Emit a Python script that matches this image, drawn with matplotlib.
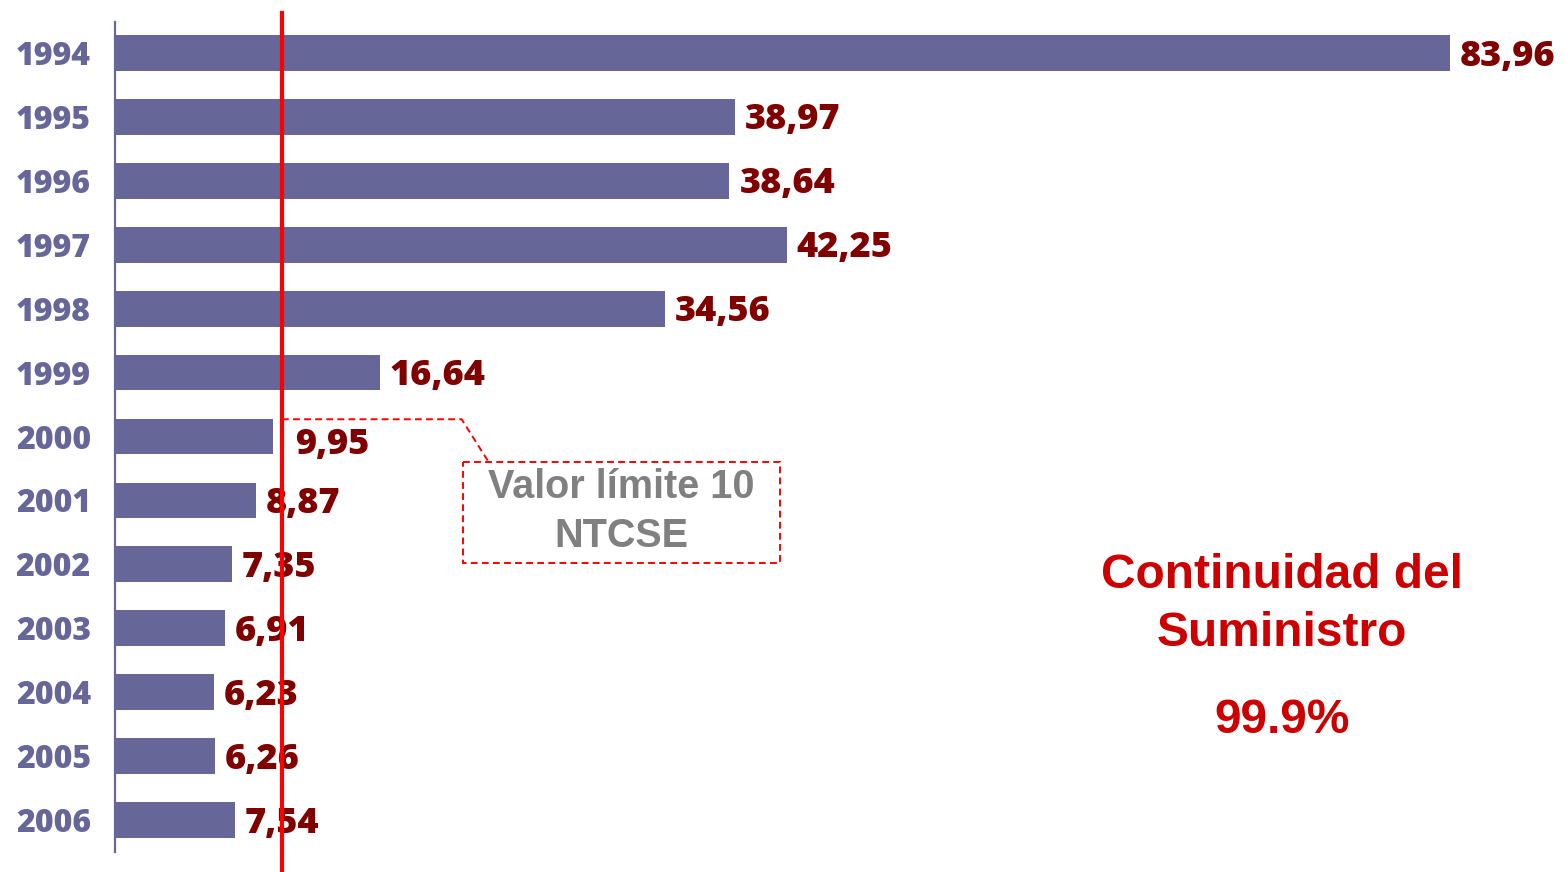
import matplotlib
matplotlib.use("Agg")
import matplotlib.pyplot as plt
from matplotlib.patches import Rectangle

years = ["1994", "1995", "1996", "1997", "1998", "1999", "2000",
         "2001", "2002", "2003", "2004", "2005", "2006"]
values = [83.96, 38.97, 38.64, 42.25, 34.56, 16.64, 9.95,
          8.87, 7.35, 6.91, 6.23, 6.26, 7.54]
value_labels = ["83,96", "38,97", "38,64", "42,25", "34,56", "16,64", "9,95",
                "8,87", "7,35", "6,91", "6,23", "6,26", "7,54"]
limit_line = 10.5  # red reference line as drawn in the original
box_lines = ["Valor límite 10", "NTCSE"]
side_lines = ["Continuidad del", "Suministro"]
side_value = "99.9%"

BAR = "#666699"
VAL = "#800000"
RED = "#FF0000"
SIDE = "#CC0000"
NUMFONT = ["Open Sans", "DejaVu Sans"]
TXTFONT = ["Liberation Sans", "DejaVu Sans"]

W, H = 1565, 872
PT = 72 / 100  # points per pixel
fig = plt.figure(figsize=(W / 100, H / 100), dpi=100)
ax = fig.add_axes([115 / W, 20 / H, 1450 / W, 830 / H])

pos = list(range(len(years)))
ax.barh(pos, values, height=0.56, color=BAR, zorder=2)
ax.set_xlim(0, 1450 / 15.9)
ax.set_ylim(len(years) - 0.5, -0.485)

ax.set_yticks([])
ax.set_xticks([])
for s in ["top", "right", "bottom"]:
    ax.spines[s].set_visible(False)
ax.spines["left"].set_color(BAR)
ax.spines["left"].set_linewidth(1.6)
ax.spines["left"].set_zorder(3)

for i, y in enumerate(years):
    ax.annotate(y, (0, i), xycoords=("axes fraction", "data"),
                xytext=(-24 * PT, -12 * PT), textcoords="offset points",
                ha="right", va="baseline", fontsize=23, fontweight=800,
                color=BAR, family=NUMFONT)

for i, (v, lab) in enumerate(zip(values, value_labels)):
    dx, dy = 10, 12.5
    if abs(v - 10) < 0.5:
        dx, dy = 22, 17
    ax.annotate(lab, (v, i), xytext=(dx * PT, -dy * PT),
                textcoords="offset points", ha="left", va="baseline",
                fontsize=26, fontweight=800, color=VAL, family=NUMFONT,
                zorder=4)

ax.axvline(limit_line, ymin=-0.025, ymax=1.0105, color=RED, lw=3.0,
           clip_on=False, zorder=5)

# callout box
dash = (0, (3.5, 2.2))
ax.add_patch(Rectangle((21.9, 6.40), 41.8 - 21.9, 7.98 - 6.40, fill=False,
                       edgecolor=RED, lw=1.4, ls=dash, zorder=3))
ax.plot([limit_line, 21.8, 23.5], [5.73, 5.73, 6.40], color=RED, lw=1.4,
        ls=dash, zorder=3)
fig.text(621 / W, 1 - 498 / H, box_lines[0], ha="center", va="baseline",
         fontsize=28.5, fontweight="bold", color="#808080", family=TXTFONT)
fig.text(621 / W, 1 - 547 / H, box_lines[1], ha="center", va="baseline",
         fontsize=28.5, fontweight="bold", color="#808080", family=TXTFONT)

fig.text(1282 / W, 1 - 588 / H, side_lines[0], ha="center", va="baseline",
         fontsize=34.5, fontweight="bold", color=SIDE, family=TXTFONT)
fig.text(1282 / W, 1 - 646 / H, side_lines[1], ha="center", va="baseline",
         fontsize=34.5, fontweight="bold", color=SIDE, family=TXTFONT)
fig.text(1282 / W, 1 - 733 / H, side_value, ha="center", va="baseline",
         fontsize=34.5, fontweight="bold", color=SIDE, family=TXTFONT)

fig.savefig("out.png", dpi=100)
